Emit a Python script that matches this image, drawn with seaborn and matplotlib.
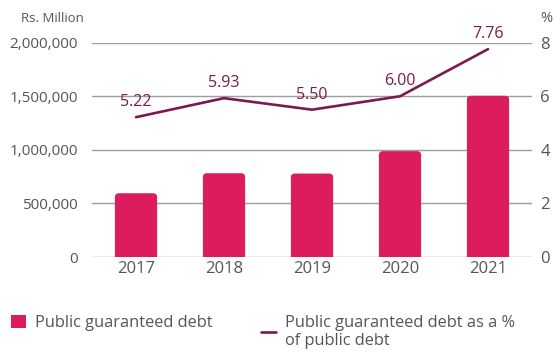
import matplotlib
matplotlib.use("Agg")
import matplotlib.pyplot as plt
from matplotlib.lines import Line2D
from matplotlib.patches import Patch, FancyBboxPatch
from matplotlib.ticker import FuncFormatter
import seaborn as sns
import pandas as pd

# Public guaranteed debt, Rs. Million, and its share of public debt (%)
years = ["2017", "2018", "2019", "2020", "2021"]
guaranteed_debt = [595000, 782000, 779000, 988000, 1505000]
share_of_public_debt = [5.22, 5.93, 5.50, 6.00, 7.76]
left_ticks = [0, 500000, 1000000, 1500000, 2000000]
right_ticks = [0, 2, 4, 6, 8]

BAR = "#dc1c5c"
LINE = "#7b1a4e"
TEXT = "#555555"
GRID = "#9e9e9e"

sns.set_theme(style="white")
plt.rcParams["font.family"] = ["Open Sans", "DejaVu Sans"]

df = pd.DataFrame({"year": years, "debt": guaranteed_debt, "share": share_of_public_debt})

fig = plt.figure(figsize=(5.6, 3.55), dpi=100)
ax = fig.add_axes([0.1643, 0.276, 0.7857, 0.6037])

for t in left_ticks:
    ax.axhline(t, color=GRID, lw=1.0, zorder=0)

sns.barplot(data=df, x="year", y="debt", color=BAR, width=0.48,
            saturation=1, ax=ax, zorder=2)
ax.set_ylim(0, 2000000)
ax.set_xlim(-0.5, 4.5)

# give the bars softly rounded top corners
px_x = 5.0 / (0.7857 * 560)          # data units per pixel along x
px_y = 2000000 / (0.6037 * 355)      # data units per pixel along y
radius_px = 4
for bar in list(ax.patches):
    x0, w, h = bar.get_x(), bar.get_width(), bar.get_height()
    ext = radius_px * px_y
    rounded = FancyBboxPatch((x0, -ext), w, h + ext,
                             boxstyle=f"round,pad=0,rounding_size={radius_px * px_x}",
                             mutation_aspect=px_y / px_x,
                             facecolor=BAR, edgecolor="none", zorder=2)
    bar.remove()
    ax.add_patch(rounded)

ax.set_yticks(left_ticks)
ax.yaxis.set_major_formatter(FuncFormatter(lambda v, p: f"{int(v):,}"))
ax.set_xlabel("")
ax.set_ylabel("")
ax.tick_params(axis="y", length=0, labelsize=11, colors=TEXT, pad=10)
ax.tick_params(axis="x", length=0, labelsize=12, colors=TEXT, pad=3)
for s in ax.spines.values():
    s.set_visible(False)

ax2 = ax.twinx()
sns.lineplot(data=df, x="year", y="share", color=LINE, lw=1.9, ax=ax2,
             sort=False, zorder=3)
ax2.set_ylim(0, 8)
ax2.set_yticks(right_ticks)
ax2.set_ylabel("")
ax2.tick_params(axis="y", length=0, labelsize=12, colors=TEXT, pad=6)
for s in ax2.spines.values():
    s.set_visible(False)

for yr, v in zip(years, share_of_public_debt):
    ax2.annotate(f"{v:.2f}", xy=(yr, v), xytext=(0, 5), textcoords="offset points",
                 ha="center", va="bottom", fontsize=11.5, color=LINE)

fig.text(84 / 560, 1 - 19 / 355, "Rs. Million", ha="right", va="center",
         fontsize=9.5, color=TEXT)
fig.text(540 / 560, 1 - 19 / 355, "%", ha="left", va="center",
         fontsize=10.5, color=TEXT)

# legend, drawn in figure coordinates below the plot
fig.legend(handles=[Patch(facecolor=BAR, edgecolor="none")],
           labels=["Public guaranteed debt"],
           loc="upper left", bbox_to_anchor=(-4 / 560, 1 - 300 / 355),
           frameon=False, fontsize=11.8, labelcolor=TEXT,
           handlelength=0.9, handleheight=0.9, handletextpad=0.55)
fig.legend(handles=[Line2D([0], [0], color=LINE, lw=1.9)],
           labels=["Public guaranteed debt as a %\nof public debt"],
           loc="upper left", bbox_to_anchor=(246 / 560, 1 - 300 / 355),
           frameon=False, fontsize=11.8, labelcolor=TEXT,
           handlelength=0.9, handletextpad=0.55, labelspacing=0.2,
           )

plt.rcParams["text.antialiased"] = True
fig.savefig("out.png", dpi=100, facecolor="white")
